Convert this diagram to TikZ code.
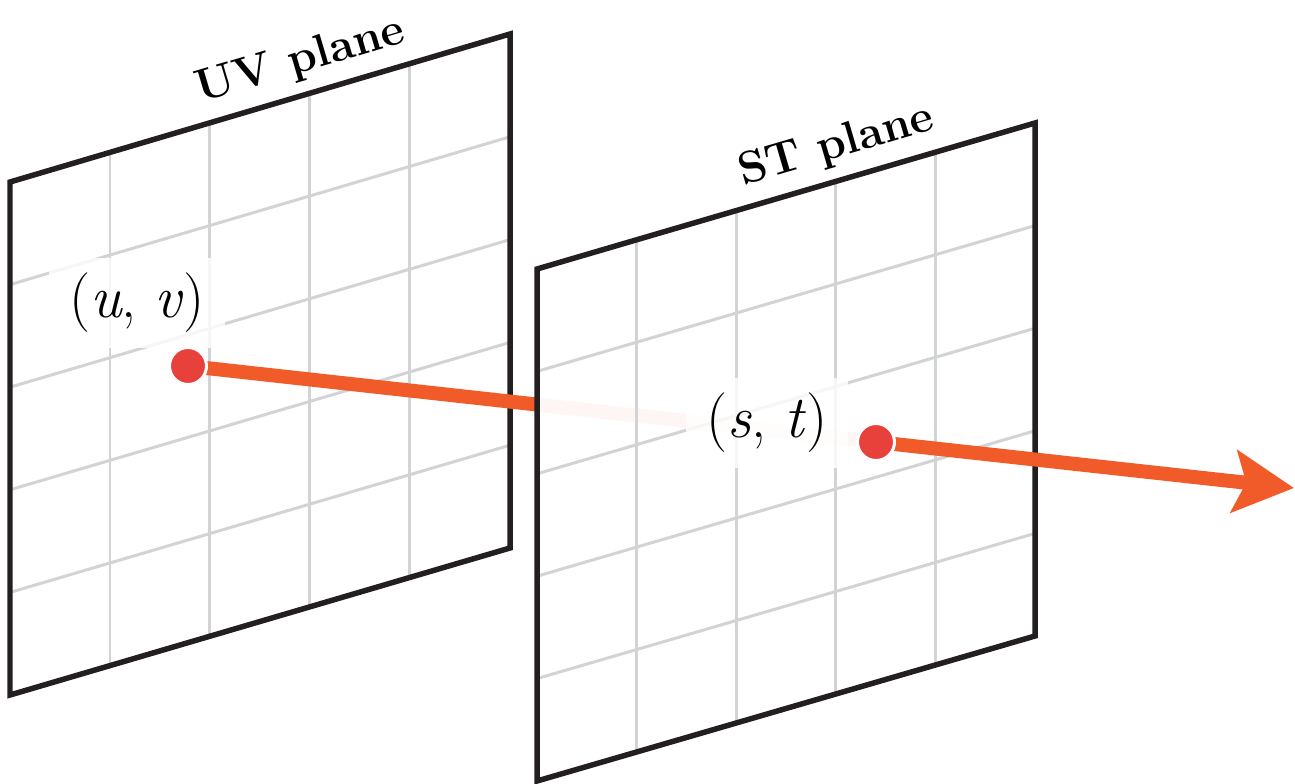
\documentclass[tikz,border=0pt]{standalone}
\usepackage{tikz}
\usetikzlibrary{arrows.meta,positioning,calc}
\definecolor{frame}{HTML}{231F20}
\definecolor{gridgray}{HTML}{D1D3D4}
\definecolor{rayorange}{HTML}{F15A29}
\definecolor{dotred}{HTML}{E8403A}

\begin{document}
\begin{tikzpicture}[x=0.02cm,y=-0.02cm,
plane/.style={draw=frame,line width=0.11cm},
gridline/.style={draw=gridgray,line width=0.06cm},
ray/.style={draw=rayorange,line width=0.28cm},
dot/.style={circle,fill=dotred,draw=white,line width=0.06cm,minimum size=0.74cm,inner sep=0pt},
planename/.style={font=\fontsize{26}{30}\selectfont\bfseries,sloped,above=4pt},
coords/.style={font=\fontsize{34}{38}\selectfont,fill=white,fill opacity=0.8,text opacity=1,inner xsep=0.4cm,inner ysep=0.3cm}]
\useasboundingbox (0,0) rectangle (1295,784);
% UV plane
\coordinate (uv-sw) at (10,695);
\coordinate (uv-se) at (510,548);
\coordinate (uv-ne) at (510,34);
\coordinate (uv-nw) at (10,182);
\foreach \i in {1,...,4}{
  \draw[gridline] ($(uv-sw)!\i/5!(uv-se)$) -- ($(uv-nw)!\i/5!(uv-ne)$);
  \draw[gridline] ($(uv-sw)!\i/5!(uv-nw)$) -- ($(uv-se)!\i/5!(uv-ne)$);
}
\draw[plane] (uv-sw) -- (uv-se) -- (uv-ne) -- (uv-nw) -- cycle;
\path (uv-nw) -- (uv-ne) node[planename,pos=0.6] (uvname) {UV plane};
\node[coords] (uvlabel) at (137,303) {(\textit{u}, \textit{v})};
% ray, first part
\coordinate (uv) at (188,366);
\coordinate (st) at (876,442);
\coordinate (tip) at (1294,488);
\draw[ray] (uv) -- (st);
% ST plane
\coordinate (st-sw) at (537,781);
\coordinate (st-se) at (1035,636);
\coordinate (st-ne) at (1035,123);
\coordinate (st-nw) at (537,269);
\fill[white,fill opacity=0.95] (st-sw) -- (st-se) -- (st-ne) -- (st-nw) -- cycle;
\foreach \i in {1,...,4}{
  \draw[gridline] ($(st-sw)!\i/5!(st-se)$) -- ($(st-nw)!\i/5!(st-ne)$);
  \draw[gridline] ($(st-sw)!\i/5!(st-nw)$) -- ($(st-se)!\i/5!(st-ne)$);
}
\draw[plane] (st-sw) -- (st-se) -- (st-ne) -- (st-nw) -- cycle;
\path (st-nw) -- (st-ne) node[planename,pos=0.62] (stname) {ST plane};
% ray, second part
\draw[ray,-{Stealth[length=1.2cm,width=1.24cm,inset=0.24cm]}] (st) -- (tip);
\node[dot] (uvpt) at (uv) {};
\node[dot] (stpt) at (st) {};
\node[coords] (stlabel) at (767,423) {(\textit{s}, \textit{t})};
\end{tikzpicture}
\end{document}
